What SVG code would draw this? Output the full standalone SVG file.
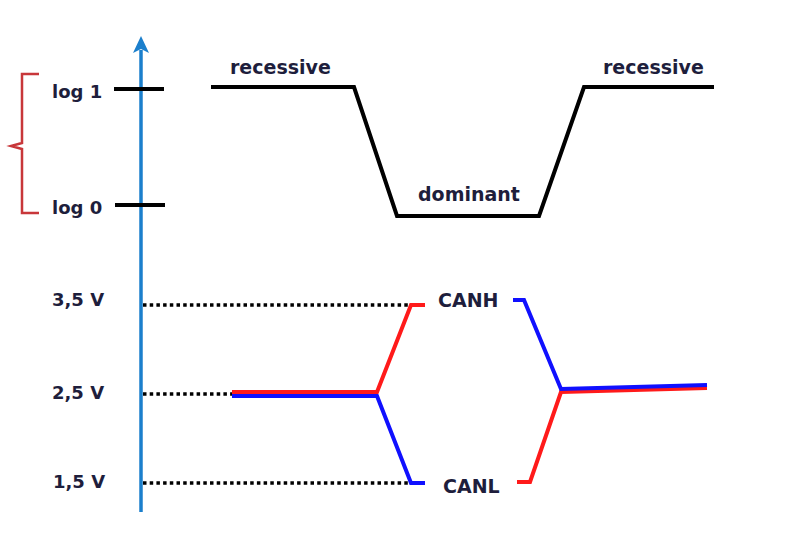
<svg xmlns="http://www.w3.org/2000/svg" width="812" height="540" viewBox="0 0 812 540">
<style>
text{font-family:"DejaVu Sans","Liberation Sans",sans-serif;font-weight:bold;font-size:19px;fill:#1e1e3c}
.lbl{font-size:18px}
.tick{stroke:#000;stroke-width:4;fill:none}
.sig{fill:none;stroke-width:4;stroke-linejoin:miter}
.dot{stroke:#000;stroke-width:3.5;stroke-dasharray:3.5 3.2;fill:none}
</style>
<rect width="812" height="540" fill="#fff"/>
<g id="axis">
<line x1="141" y1="50" x2="141" y2="512" stroke="#1b7fcc" stroke-width="3.5"/>
<polygon points="141,36 149,53 141,49 133,53" fill="#1b7fcc"/>
</g>
<g id="bracket">
<path d="M39,74 H22 V143 L11,146 L22,149 V213 H39" fill="none" stroke="#c8373a" stroke-width="2.5"/>
</g>
<g id="ticks">
<line class="tick" x1="114" y1="89" x2="164" y2="89"/>
<line class="tick" x1="115" y1="205" x2="165" y2="205"/>
</g>
<g id="labels">
<text class="lbl" x="52" y="98">log 1</text>
<text class="lbl" x="52" y="214">log 0</text>
<text class="lbl" x="52" y="306">3,5 V</text>
<text class="lbl" x="52" y="399">2,5 V</text>
<text class="lbl" x="53" y="488">1,5 V</text>
</g>
<g id="connectors">
<line class="dot" x1="143" y1="305" x2="412" y2="305"/>
<line class="dot" x1="143" y1="394" x2="234" y2="394"/>
<line class="dot" x1="143" y1="483" x2="412" y2="483"/>
</g>
<g id="logic">
<path class="sig" stroke="#000" d="M211,87 H354 L397,216 H539 L584,87 H714"/>
<text x="230" y="74">recessive</text>
<text x="418" y="201">dominant</text>
<text x="603" y="74">recessive</text>
</g>
<g id="canh">
<path class="sig" stroke="#ff1a1a" d="M232,392 H377 L411,305 H425"/>
<path class="sig" stroke="#ff1a1a" d="M517,482 H530 L561,392 L707,388"/>
<text x="438" y="307">CANH</text>
</g>
<g id="canl">
<path class="sig" stroke="#1010ff" d="M232,396 H377 L411,483 H425"/>
<path class="sig" stroke="#1010ff" d="M513,300 H524 L561,389 L707,385"/>
<text x="443" y="493">CANL</text>
</g>
</svg>
